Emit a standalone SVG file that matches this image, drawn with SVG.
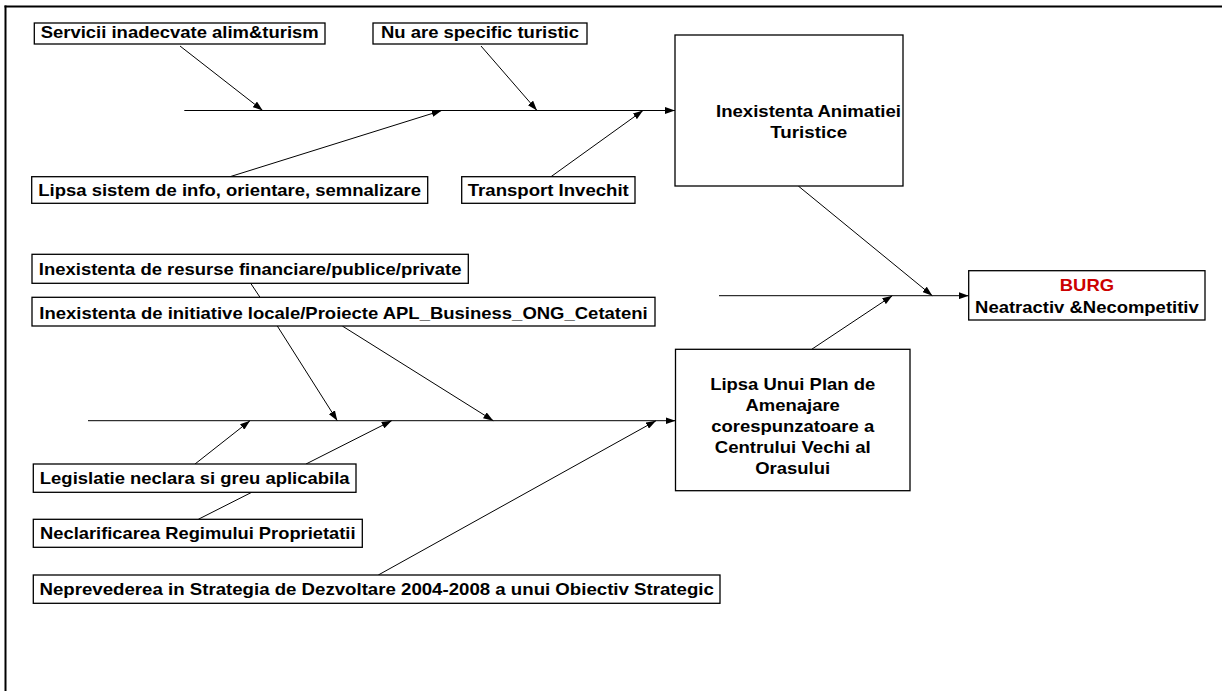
<svg xmlns="http://www.w3.org/2000/svg" width="1222" height="695" viewBox="0 0 1222 695">
<defs>
<marker id="arr" markerUnits="userSpaceOnUse" markerWidth="10" markerHeight="7" refX="10" refY="3.5" orient="auto">
<path d="M0,0 L10,3.5 L0,7 z" fill="#000"/>
</marker>
<style>
.box{fill:#fff;stroke:#000;stroke-width:1.3}
.t{font-family:"Liberation Sans",Arial,sans-serif;font-weight:bold;font-size:16.5px;fill:#000}
.red{fill:#CC0000}
.c{stroke:#000;stroke-width:1;fill:none}
.a{stroke:#000;stroke-width:1;fill:none;marker-end:url(#arr)}
.frame{stroke:#000;stroke-width:2;fill:none}
</style>
</defs>
<rect width="1222" height="695" fill="#fff"/>
<g id="frame">
<line class="frame" x1="4.5" y1="6.5" x2="1222" y2="6.5"/>
<line class="frame" x1="5.5" y1="5.5" x2="5.5" y2="691"/>
</g>
<g id="connectors">
<line class="a" x1="184.3" y1="110.5" x2="675" y2="110.5"/>
<line class="a" x1="180" y1="46" x2="262.7" y2="110.5"/>
<line class="a" x1="481" y1="46" x2="537" y2="110.5"/>
<line class="a" x1="230" y1="176.7" x2="441.7" y2="110.5"/>
<line class="a" x1="551" y1="176.7" x2="643" y2="110.5"/>
<line class="a" x1="719" y1="295.7" x2="968.7" y2="295.7"/>
<line class="a" x1="798.3" y1="186" x2="932.3" y2="295.7"/>
<line class="a" x1="811.7" y1="349.3" x2="892.3" y2="295.7"/>
<line class="a" x1="88" y1="420.7" x2="675.5" y2="420.7"/>
<line class="c" x1="250.7" y1="283.3" x2="260" y2="297.3"/>
<line class="a" x1="277.3" y1="326" x2="337.3" y2="420.7"/>
<line class="a" x1="342.3" y1="326" x2="493.3" y2="420.7"/>
<line class="a" x1="195" y1="464" x2="250" y2="420.7"/>
<line class="a" x1="306" y1="464" x2="391.7" y2="420.7"/>
<line class="c" x1="198.3" y1="519.3" x2="251.7" y2="492.3"/>
<line class="a" x1="378.3" y1="575" x2="656" y2="420.7"/>
</g>
<g id="n-servicii">
<rect class="box" x="34.3" y="23" width="290.7" height="21"/>
<text class="t" x="40.7" y="38.2" textLength="278" lengthAdjust="spacingAndGlyphs">Servicii inadecvate alim&amp;turism</text>
</g>
<g id="n-nuare">
<rect class="box" x="373" y="23" width="214" height="21"/>
<text class="t" x="381" y="38.2" textLength="198" lengthAdjust="spacingAndGlyphs">Nu are specific turistic</text>
</g>
<g id="n-animatie">
<rect class="box" x="675" y="35" width="228" height="151"/>
<text class="t" x="716" y="116.5" textLength="185" lengthAdjust="spacingAndGlyphs">Inexistenta Animatiei</text>
<text class="t" x="770.2" y="138.2" textLength="77" lengthAdjust="spacingAndGlyphs">Turistice</text>
</g>
<g id="n-lipsasistem">
<rect class="box" x="31.7" y="176.7" width="396" height="26.6"/>
<text class="t" x="38.35" y="195.5" textLength="382.7" lengthAdjust="spacingAndGlyphs">Lipsa sistem de info, orientare, semnalizare</text>
</g>
<g id="n-transport">
<rect class="box" x="461.7" y="176.7" width="173.3" height="26.6"/>
<text class="t" x="467.8" y="195.5" textLength="161" lengthAdjust="spacingAndGlyphs">Transport Invechit</text>
</g>
<g id="n-resurse">
<rect class="box" x="32" y="254.3" width="436.3" height="29"/>
<text class="t" x="38.85" y="274.5" textLength="422.7" lengthAdjust="spacingAndGlyphs">Inexistenta de resurse financiare/publice/private</text>
</g>
<g id="n-initiative">
<rect class="box" x="32" y="297.3" width="623" height="28.7"/>
<text class="t" x="39.3" y="318.5" textLength="608.4" lengthAdjust="spacingAndGlyphs">Inexistenta de initiative locale/Proiecte APL_Business_ONG_Cetateni</text>
</g>
<g id="n-plan">
<rect class="box" x="675.5" y="349.3" width="234.5" height="141.4"/>
<text class="t" x="710.2" y="389.5" textLength="165" lengthAdjust="spacingAndGlyphs">Lipsa Unui Plan de</text>
<text class="t" x="745.5" y="410.5" textLength="94.4" lengthAdjust="spacingAndGlyphs">Amenajare</text>
<text class="t" x="711.25" y="431.5" textLength="162.9" lengthAdjust="spacingAndGlyphs">corespunzatoare a</text>
<text class="t" x="714.75" y="452.5" textLength="155.9" lengthAdjust="spacingAndGlyphs">Centrului Vechi al</text>
<text class="t" x="755.25" y="473.5" textLength="74.9" lengthAdjust="spacingAndGlyphs">Orasului</text>
</g>
<g id="n-legislatie">
<rect class="box" x="33.3" y="464" width="322.7" height="28.3"/>
<text class="t" x="39.85" y="483.8" textLength="309.7" lengthAdjust="spacingAndGlyphs">Legislatie neclara si greu aplicabila</text>
</g>
<g id="n-neclarificarea">
<rect class="box" x="33.3" y="519.3" width="329" height="28"/>
<text class="t" x="40.05" y="538.8" textLength="315.5" lengthAdjust="spacingAndGlyphs">Neclarificarea Regimului Proprietatii</text>
</g>
<g id="n-neprevederea">
<rect class="box" x="33.3" y="575" width="686.7" height="28.3"/>
<text class="t" x="39.55" y="594.5" textLength="674.3" lengthAdjust="spacingAndGlyphs">Neprevederea in Strategia de Dezvoltare 2004-2008 a unui Obiectiv Strategic</text>
</g>
<g id="n-burg">
<rect class="box" x="968.7" y="270.7" width="236.3" height="49.3"/>
<text class="t red" x="1059.75" y="290.5" textLength="54.3" lengthAdjust="spacingAndGlyphs">BURG</text>
<text class="t" x="975.1" y="313" textLength="223.6" lengthAdjust="spacingAndGlyphs">Neatractiv &amp;Necompetitiv</text>
</g>
</svg>
